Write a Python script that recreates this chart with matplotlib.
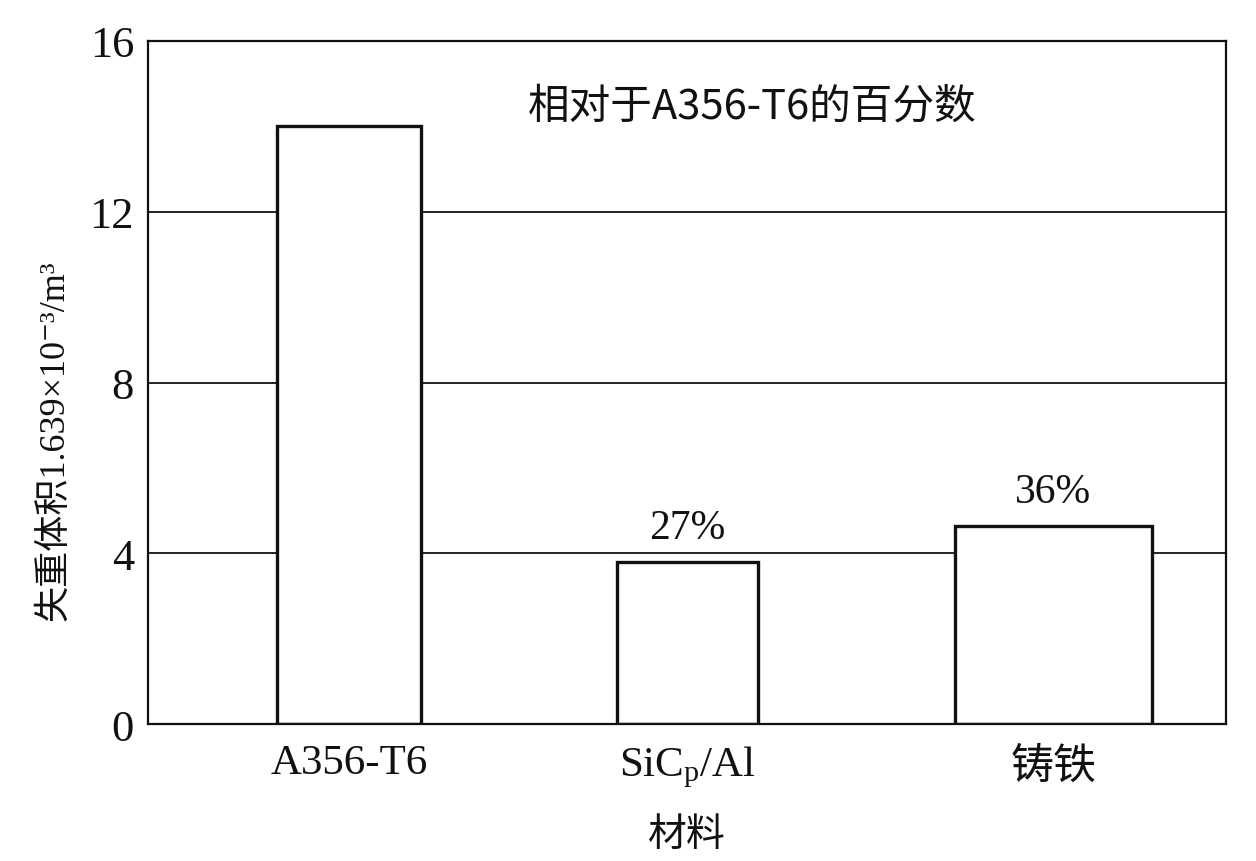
import matplotlib
matplotlib.use("Agg")
import matplotlib.pyplot as plt

plt.rcParams['mathtext.fontset'] = 'custom'
plt.rcParams['mathtext.rm'] = 'Liberation Serif'
plt.rcParams['mathtext.it'] = 'Liberation Serif:italic'

# data
materials = ["A356-T6", "SiC$_\\mathrm{p}$/Al", "铸铁"]
volume_loss = [14.0, 3.8, 4.65]
percent_labels = ["", "27%", "36%"]
yticks = [0, 4, 8, 12, 16]

# layout (bars are not evenly spaced in the original)
xpos = [0.0, 1.0, 2.08]
widths = [0.425, 0.417, 0.582]

serif = ['Liberation Serif', 'Noto Sans CJK SC', 'DejaVu Serif']
cjk = ['Noto Sans CJK SC', 'DejaVu Sans']
ink = '#111111'

fig = plt.figure(figsize=(12.56, 8.62), dpi=100)
ax = fig.add_axes([0.1178, 0.1589, 0.8583, 0.7924])

for y in yticks[1:-1]:
    ax.axhline(y, color=ink, lw=1.3, zorder=1)

ax.bar(xpos, volume_loss, width=widths, color='white', edgecolor=ink,
       linewidth=2.4, zorder=2)

for x, v, t in zip(xpos, volume_loss, percent_labels):
    if t:
        ax.text(x, v + 0.8, t, ha='center', va='center', fontsize=30,
                family=serif, color=ink)

ax.text(0.56, 0.905, "相对于A356-T6的百分数", transform=ax.transAxes,
        ha='center', va='center', fontsize=30, family=cjk, color=ink)

ax.set_xlim(-0.594, 2.591)
ax.set_ylim(0, 16)
ax.set_yticks(yticks)
ax.set_yticklabels([str(t) for t in yticks], family=serif, fontsize=32, color=ink)
ax.set_xticks(xpos)
ax.set_xticklabels(materials, fontsize=31, color=ink)
for lab in ax.get_xticklabels():
    lab.set_family(serif if lab.get_text() != "铸铁" else cjk)
ax.tick_params(axis='y', length=0, pad=10)
ax.tick_params(axis='x', length=0, pad=14)

for s in ax.spines.values():
    s.set_linewidth(1.6)
    s.set_color(ink)

ax.set_ylabel("失重体积1.639×10⁻³/m³", family=serif, fontsize=26, color=ink)
ax.yaxis.set_label_coords(-0.071, 0.416)
ax.set_xlabel("材料", family=cjk, fontsize=28, color=ink, labelpad=18)

fig.savefig("out.png", dpi=100, facecolor='white')
